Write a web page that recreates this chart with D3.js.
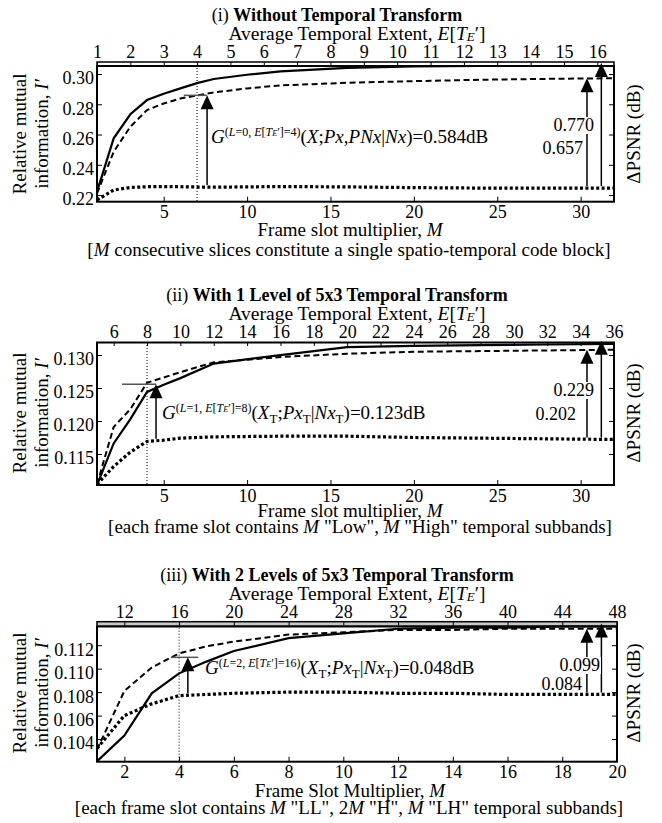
<!DOCTYPE html>
<html>
<head>
<meta charset="utf-8">
<script src="https://cdn.jsdelivr.net/npm/d3@7"></script>
<style>
  body { margin: 0; background: #fff; }
  svg, svg text { font-family: "Liberation Serif", "Times New Roman", serif; }
  text { white-space: pre; }
</style>
</head>
<body>
<div class="chart"></div>
<script>
// ---- data ----
// panel (i): no temporal transform
const mSlots1 = [1, 2, 3, 4, 5, 6, 7, 8, 10, 12, 16, 20, 24, 28, 32];
const solid1  = [0.2222, 0.2575, 0.2734, 0.2828, 0.2870, 0.2905, 0.2940, 0.2967, 0.2995, 0.3018, 0.3040, 0.3050, 0.3053, 0.3053, 0.3053];
const dashed1 = [0.2211, 0.2486, 0.2652, 0.2762, 0.2805, 0.2838, 0.2859, 0.2878, 0.2905, 0.2925, 0.2942, 0.2953, 0.2962, 0.2968, 0.2972];
const dotted1 = [0.2167, 0.2233, 0.2250, 0.2255, 0.2256, 0.2255, 0.2253, 0.2252, 0.2254, 0.2256, 0.2254, 0.2249, 0.2246, 0.2246, 0.2246];

// panel (ii): 1 level of 5x3
const mSlots2 = [1, 2, 3, 4, 5, 6, 8, 12, 16, 20, 24, 28, 32];
const solid2  = [0.1103, 0.1166, 0.1203, 0.1244, 0.1255, 0.1265, 0.1287, 0.1300, 0.1312, 0.1314, 0.1315, 0.1316, 0.1317];
const dashed2 = [0.1104, 0.1191, 0.1218, 0.1258, 0.1266, 0.1274, 0.1289, 0.1297, 0.1302, 0.1305, 0.1306, 0.1307, 0.1308];
const dotted2 = [0.1104, 0.1131, 0.1153, 0.1169, 0.1171, 0.1174, 0.1176, 0.1177, 0.1177, 0.1175, 0.1174, 0.1173, 0.1172];

// panel (iii): 2 levels of 5x3
const mSlots3 = [1, 2, 3, 4, 5, 6, 8, 10, 12, 14, 16, 18, 20];
const solid3  = [0.1021, 0.1043, 0.1079, 0.1096, 0.1106, 0.1115, 0.1126, 0.1130, 0.1134, 0.1135, 0.1135, 0.1136, 0.1136];
const dashed3 = [0.1031, 0.1081, 0.1101, 0.1113, 0.1119, 0.1123, 0.1129, 0.1131, 0.1133, 0.1133, 0.1134, 0.1134, 0.1134];
const dotted3 = [0.1032, 0.1060, 0.1070, 0.1077, 0.1078, 0.1079, 0.1080, 0.1080, 0.1079, 0.1079, 0.1078, 0.1078, 0.1078];

// ticks
const mTicks1 = [5, 10, 15, 20, 25, 30];
const mTicks2 = [5, 10, 15, 20, 25, 30];
const mTicks3 = [2, 4, 6, 8, 10, 12, 14, 16, 18, 20];
const eTicks1 = [1, 2, 3, 4, 5, 6, 7, 8, 9, 10, 11, 12, 13, 14, 15, 16];
const eTicks2 = [6, 8, 10, 12, 14, 16, 18, 20, 22, 24, 26, 28, 30, 32, 34, 36];
const eTicks3 = [12, 16, 20, 24, 28, 32, 36, 40, 44, 48];
const yTicks1 = [0.22, 0.24, 0.26, 0.28, 0.30];
const yTicks2 = [0.115, 0.120, 0.125, 0.130];
const yTicks3 = [0.104, 0.106, 0.108, 0.110, 0.112];

// annotated gains (dB)
const gainAtMark = ['0.584', '0.123', '0.048'];
const gainSolid  = ['0.770', '0.229', '0.099'];
const gainDashed = ['0.657', '0.202', '0.084'];
const markLevel  = [0, 1, 2];
const markExtent = [4, 8, 16];

// ---- layout ----
const W = 662, H = 823;
const layout = [
  { left: 97, right: 614, axisTop: 62, top: 66, bottom: 201.7, band: '#fff',
    yDomain: [0.2156, 0.3053], mDomain: [1, 32], eDomain: [1, 16.5], fmt: '.2f',
    titleY: 21, eTitleY: 40, mTitleY: 236, noteY: 256, midY: 134, noteX: 349,
    markM: 7, gArrowM: 7.6, gLine: [6.2, 7.6], gText: [211, 143],
    rArrowM: [30.38, 31.24], upLabel: [594, 131], lowLabel: [583, 154] },
  { left: 97, right: 614, axisTop: 342, top: 342.5, bottom: 485, band: '#fff',
    yDomain: [0.1103, 0.1319], mDomain: [1, 32], eDomain: [5, 36], fmt: '.3f',
    titleY: 301, eTitleY: 320, mTitleY: 517, noteY: 533, midY: 413, noteX: 360,
    markM: 4, gArrowM: 4.54, gLine: [2.5, 4.54], gText: [162, 419],
    rArrowM: [30.38, 31.24], upLabel: [594, 396], lowLabel: [576, 419.5] },
  { left: 97, right: 617, axisTop: 621.7, top: 626.4, bottom: 761.7, band: '#c8c8c8',
    yDomain: [0.10207, 0.1136], mDomain: [1, 20], eDomain: [10, 48], fmt: '.3f',
    titleY: 581, eTitleY: 600, mTitleY: 797, noteY: 814, midY: 693, noteX: 349,
    markM: 4, gArrowM: 4.32, gLine: [3.7, 4.7], gText: [205, 674],
    rArrowM: [18.9, 19.43], upLabel: [600, 671], lowLabel: [582, 689.5] }
];

const svg = d3.select('.chart').append('svg')
  .attr('width', W).attr('height', H)
  .attr('viewBox', `0 0 ${W} ${H}`);

function rich(sel, segs, size) {
  let shift = 0;
  segs.forEach(s => {
    const off = s.sup ? -7 : (s.sub ? (s.off || 4) : 0);
    const t = sel.append('tspan').attr('dy', off - shift).text(s.t)
      .style('font-size', (s.fs || (s.sup ? 12 : size)) + 'px');
    if (s.i) t.style('font-style', 'italic');
    if (s.b) t.style('font-weight', 'bold');
    shift = off;
  });
  return sel;
}

function gSegs(L, E, tail, subT) {
  const sup = [
    {t: 'G', i: true},
    {t: '(', sup: true}, {t: 'L', i: true, sup: true}, {t: '=' + L + ', ', sup: true},
    {t: 'E', i: true, sup: true}, {t: '[', sup: true}, {t: 'T', i: true, sup: true},
    {t: 'E', i: true, sup: true, fs: 8}, {t: '′]=' + E + ')', sup: true}
  ];
  let body;
  if (!subT) {
    body = [{t: '('}, {t: 'X', i: true}, {t: ';'}, {t: 'Px', i: true}, {t: ','},
            {t: 'PNx', i: true}, {t: '|'}, {t: 'Nx', i: true}, {t: ')=' + tail + 'dB'}];
  } else {
    body = [{t: '('}, {t: 'X', i: true}, {t: 'T', sub: true, fs: 13}, {t: ';'},
            {t: 'Px', i: true}, {t: 'T', sub: true, fs: 13}, {t: '|'},
            {t: 'Nx', i: true}, {t: 'T', sub: true, fs: 13}, {t: ')=' + tail + 'dB'}];
  }
  return sup.concat(body);
}

const titles = [
  [{t: '(i) '}, {t: 'Without Temporal Transform', b: true}],
  [{t: '(ii) '}, {t: 'With 1 Level of 5x3 Temporal Transform', b: true}],
  [{t: '(iii) '}, {t: 'With 2 Levels of 5x3 Temporal Transform', b: true}]
];
const mTitles = ['Frame slot multiplier, ', 'Frame slot multiplier, ', 'Frame Slot Multiplier, '];
const notes = [
  [{t: '['}, {t: 'M', i: true}, {t: ' consecutive slices constitute a single spatio-temporal code block]'}],
  [{t: '[each frame slot contains '}, {t: 'M', i: true}, {t: ' "Low", '}, {t: 'M', i: true}, {t: ' "High" temporal subbands]'}],
  [{t: '[each frame slot contains '}, {t: 'M', i: true}, {t: ' "LL", 2'}, {t: 'M', i: true}, {t: ' "H", '}, {t: 'M', i: true}, {t: ' "LH" temporal subbands]'}]
];

const series = [
  { m: mSlots1, solid: solid1, dashed: dashed1, dotted: dotted1, mt: mTicks1, et: eTicks1, yt: yTicks1 },
  { m: mSlots2, solid: solid2, dashed: dashed2, dotted: dotted2, mt: mTicks2, et: eTicks2, yt: yTicks2 },
  { m: mSlots3, solid: solid3, dashed: dashed3, dotted: dotted3, mt: mTicks3, et: eTicks3, yt: yTicks3 }
];

function arrow(g, xp, yFrom, yTo, color) {
  g.append('line').attr('x1', xp).attr('x2', xp).attr('y1', yFrom).attr('y2', yTo + 10)
    .attr('stroke', color).attr('stroke-width', 1.5);
  g.append('path')
    .attr('d', `M${xp},${yTo} L${xp - 6.5},${yTo + 14} L${xp + 6.5},${yTo + 14} Z`)
    .attr('fill', color);
}

function drawPanel(k) {
  const p = layout[k], s = series[k];
  const x = d3.scaleLinear().domain(p.mDomain).range([p.left, p.right]);
  const xTop = d3.scaleLinear().domain(p.eDomain).range([p.left, p.right]);
  const y = d3.scaleLinear().domain(p.yDomain).range([p.bottom, p.top]);
  const g = svg.append('g');
  const w = p.right - p.left;

  g.append('clipPath').attr('id', 'clip' + k).append('rect')
    .attr('x', p.left).attr('y', p.top - 1).attr('width', w).attr('height', p.bottom - p.top + 1);

  // top axis band + frame
  if (p.top - p.axisTop > 1) {
    g.append('rect').attr('x', p.left).attr('y', p.axisTop).attr('width', w)
      .attr('height', p.top - p.axisTop).attr('fill', p.band).attr('stroke', '#000').attr('stroke-width', 1.5);
  }
  g.append('rect').attr('x', p.left).attr('y', p.top).attr('width', w)
    .attr('height', p.bottom - p.top).attr('fill', 'none').attr('stroke', '#000').attr('stroke-width', 2);

  // axes
  const ax = (sel) => {
    sel.attr('font-family', null).attr('font-size', null);
    sel.select('.domain').remove();
    sel.selectAll('text').style('font-size', '18px')
      .style('font-family', '"Liberation Serif", "Times New Roman", serif').attr('fill', '#000');
    sel.selectAll('line').attr('stroke', '#000');
  };
  g.append('g').attr('transform', `translate(0,${p.bottom})`)
    .call(d3.axisBottom(x).tickValues(s.mt).tickSize(-5).tickPadding(4).tickFormat(d3.format('d'))).call(ax);
  g.append('g').attr('transform', `translate(0,${p.axisTop})`)
    .call(d3.axisTop(xTop).tickValues(s.et).tickSize(-4).tickPadding(4).tickFormat(d3.format('d'))).call(ax);
  const ly = g.append('g').attr('transform', `translate(${p.left},0)`)
    .call(d3.axisLeft(y).tickValues(s.yt).tickSize(-5).tickPadding(3).tickFormat(d3.format(p.fmt))).call(ax);
  ly.selectAll('text').attr('dy', '0.55em');
  g.append('g').attr('transform', `translate(${p.right},0)`)
    .call(d3.axisRight(y).tickValues(s.yt).tickSize(-5).tickFormat('')).call(ax);

  // mark line E[TE'] = const
  g.append('line').attr('x1', x(p.markM)).attr('x2', x(p.markM))
    .attr('y1', p.axisTop).attr('y2', p.bottom)
    .attr('stroke', '#000').attr('stroke-width', 1).attr('stroke-dasharray', '1,2');

  // curves
  const pts = (vals) => s.m.map((m, i) => ({m: m, v: vals[i]}));
  const line = d3.line().x(d => x(d.m)).y(d => y(d.v));
  const curves = g.append('g').attr('clip-path', `url(#clip${k})`).attr('fill', 'none').attr('stroke', '#000');
  curves.append('path').attr('d', line(pts(s.dotted))).attr('stroke-width', 3.2).attr('stroke-dasharray', '3,2.4');
  curves.append('path').attr('d', line(pts(s.dashed))).attr('stroke-width', 2).attr('stroke-dasharray', '6,3.5');
  curves.append('path').attr('d', line(pts(s.solid))).attr('stroke-width', 2.2);

  const interp = (vals, m) => {
    const i = d3.bisectRight(s.m, m) - 1;
    if (i >= s.m.length - 1) return vals[vals.length - 1];
    const t = (m - s.m[i]) / (s.m[i + 1] - s.m[i]);
    return vals[i] + t * (vals[i + 1] - vals[i]);
  };

  // gain arrow at the marked extent
  const yTip = y(interp(s.dashed, p.gArrowM - 0.6));
  g.append('line').attr('x1', x(p.gLine[0])).attr('x2', x(p.gLine[1]))
    .attr('y1', yTip).attr('y2', yTip).attr('stroke', '#555').attr('stroke-width', 1.5);
  arrow(g, x(p.gArrowM), y(interp(s.dotted, p.gArrowM)) - 2, yTip, '#000');
  rich(g.append('text').attr('x', p.gText[0]).attr('y', p.gText[1]),
    gSegs(markLevel[k], markExtent[k], gainAtMark[k], k > 0), 19);

  // gain arrows at the right end
  const yDot = y(s.dotted[s.dotted.length - 1]) - 2;
  arrow(g, x(p.rArrowM[0]), yDot, y(s.dashed[s.dashed.length - 1]), '#000');
  arrow(g, x(p.rArrowM[1]), yDot, y(s.solid[s.solid.length - 1]) - 3, '#000');
  const up = g.append('text').attr('x', p.upLabel[0]).attr('y', p.upLabel[1])
    .attr('text-anchor', 'end').style('font-size', '18px').text(gainSolid[k]);
  const bb = up.node().getBBox();
  g.insert('rect', () => up.node()).attr('x', bb.x - 1).attr('y', bb.y + 2)
    .attr('width', bb.width + 2).attr('height', bb.height - 3).attr('fill', '#fff');
  g.append('text').attr('x', p.lowLabel[0]).attr('y', p.lowLabel[1])
    .attr('text-anchor', 'end').style('font-size', '18px').text(gainDashed[k]);

  // titles and axis labels
  rich(g.append('text').attr('x', 337).attr('y', p.titleY).attr('text-anchor', 'middle'), titles[k], 18);
  rich(g.append('text').attr('x', 357).attr('y', p.eTitleY).attr('text-anchor', 'middle'),
    [{t: 'Average Temporal Extent, '}, {t: 'E', i: true}, {t: '['}, {t: 'T', i: true},
     {t: 'E', i: true, sub: true, off: 1, fs: 13}, {t: '′]'}], 19.5);
  rich(g.append('text').attr('x', 350).attr('y', p.mTitleY).attr('text-anchor', 'middle'),
    [{t: mTitles[k]}, {t: 'M', i: true}], 19);
  rich(g.append('text').attr('x', p.noteX).attr('y', p.noteY).attr('text-anchor', 'middle'), notes[k], 19);

  g.append('text').attr('transform', `translate(26,${p.midY}) rotate(-90)`)
    .attr('text-anchor', 'middle').style('font-size', '19px').text('Relative mutual');
  rich(g.append('text').attr('transform', `translate(48,${p.midY}) rotate(-90)`)
    .attr('text-anchor', 'middle'), [{t: 'information, '}, {t: 'I′', i: true}], 19);
  g.append('text').attr('transform', `translate(640,${p.midY}) rotate(-90)`)
    .attr('text-anchor', 'middle').style('font-size', '19px').text('ΔPSNR (dB)');
}

[0, 1, 2].forEach(drawPanel);
</script>
</body>
</html>
